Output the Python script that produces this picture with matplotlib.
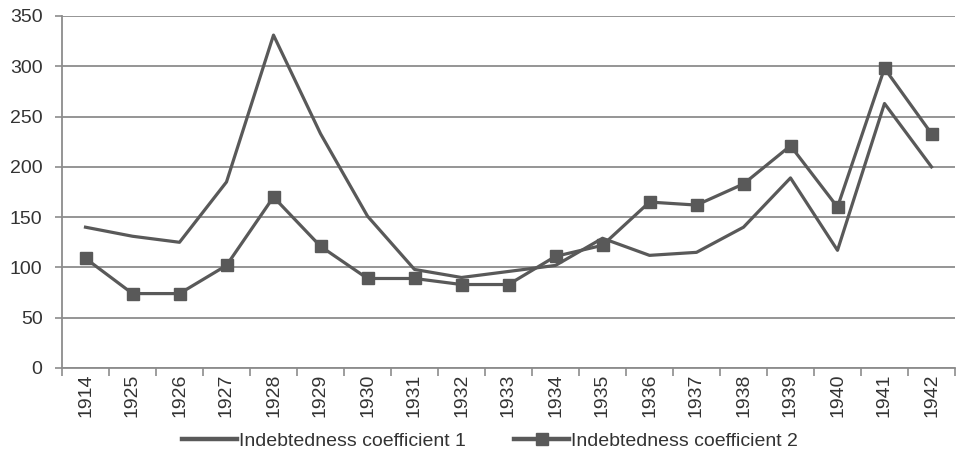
import matplotlib
matplotlib.use("Agg")
import matplotlib.pyplot as plt
from matplotlib.ticker import MultipleLocator, FixedLocator
import numpy as np

years = ["1914", "1925", "1926", "1927", "1928", "1929", "1930", "1931", "1932", "1933",
         "1934", "1935", "1936", "1937", "1938", "1939", "1940", "1941", "1942"]
coef1 = [140, 131, 125, 185, 331, 233, 151, 98, 90, 96,
         102, 129, 112, 115, 140, 189, 117, 263, 200]
coef2 = [109, 74, 74, 102, 170, 121, 89, 89, 83, 83,
         111, 122, 165, 162, 183, 221, 160, 298, 233]
series_names = ["Indebtedness coefficient 1", "Indebtedness coefficient 2"]

plt.rcParams['font.family'] = ['Liberation Sans', 'DejaVu Sans']

fig = plt.figure(figsize=(9.56, 4.54), dpi=100)
ax = fig.add_axes([62/956, 1-368/454, (955-62)/956, (368-16)/454])

x = np.arange(len(years))
lc = "#595959"
ax.plot(x, coef1, color=lc, lw=2.3, label=series_names[0], zorder=3)
ax.plot(x, coef2, color=lc, lw=2.3, marker="s", markersize=8, label=series_names[1], zorder=4)

ax.set_ylim(0, 350)
ax.set_xlim(-0.5, len(years) - 0.5)
ax.yaxis.set_major_locator(MultipleLocator(50))
ax.grid(axis="y", color="#8c8c8c", lw=1.3, zorder=0)
ax.set_xticks(x)
ax.set_xticklabels(years, rotation=90, fontsize=14, color="#333333")
ax.xaxis.set_minor_locator(FixedLocator(np.arange(-0.5, len(years), 1.0)))
ax.tick_params(axis="x", which="major", length=0, pad=4)
ax.tick_params(axis="x", which="minor", length=6, width=1.2, color="#8c8c8c")
ax.tick_params(axis="y", length=5, width=1.2, color="#8c8c8c", labelsize=14,
               labelcolor="#333333", pad=9)
for s in ["top", "right"]:
    ax.spines[s].set_visible(False)
for s in ["left", "bottom"]:
    ax.spines[s].set_color("#8c8c8c")
    ax.spines[s].set_linewidth(1.3)

leg = fig.legend(loc="center", bbox_to_anchor=(490/956, 1-441/454), ncol=2, frameon=False,
                 prop={"family": ["Liberation Sans Narrow", "Liberation Sans"], "size": 14},
                 handlelength=2.8, handletextpad=0.1, columnspacing=2.5)
for t in leg.get_texts():
    t.set_color("#333333")
for h in leg.get_lines():
    h.set_linewidth(3.2)

fig.savefig("out.png", dpi=100)
